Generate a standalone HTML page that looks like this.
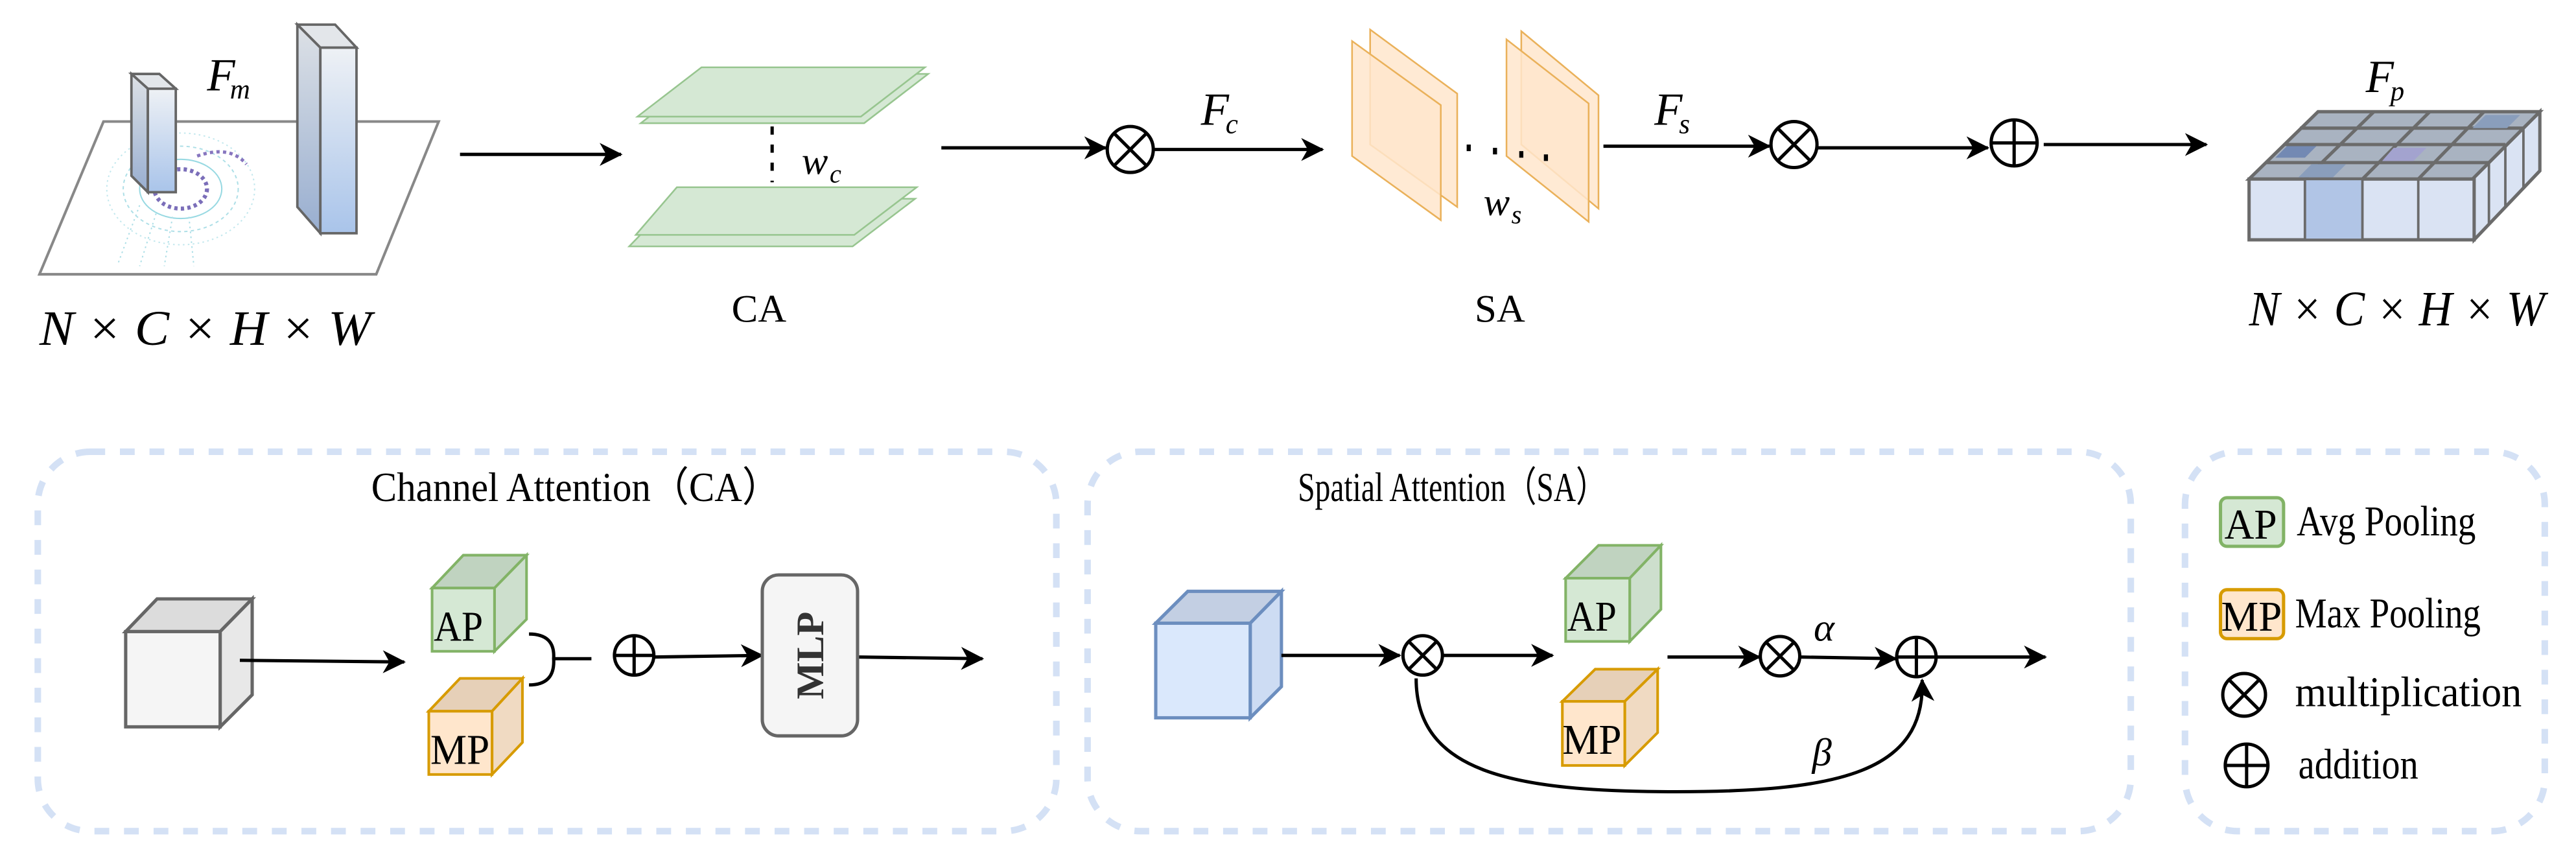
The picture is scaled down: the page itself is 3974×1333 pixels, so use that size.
<!DOCTYPE html>
<html><head><meta charset="utf-8"><style>
html,body{margin:0;padding:0;background:#fff;}
svg{display:block;}
text{font-family:"Liberation Serif","DejaVu Serif",serif;fill:#000;}
.m{font-style:italic;}
</style></head><body>
<svg width="3974" height="1333" viewBox="0 0 1568 526" preserveAspectRatio="none" xmlns="http://www.w3.org/2000/svg">
<defs>
<marker id="ah" markerUnits="userSpaceOnUse" markerWidth="14" markerHeight="14" viewBox="0 0 14 14" refX="13" refY="7" orient="auto">
<path d="M0,0 L14,7 L0,14 L4,7 Z" fill="#000"/>
</marker>
<linearGradient id="bar" x1="0" y1="0" x2="0" y2="1"><stop offset="0" stop-color="#eef1f5"/><stop offset="1" stop-color="#a9c4ea"/></linearGradient>
<linearGradient id="bars" x1="0" y1="0" x2="0" y2="1"><stop offset="0" stop-color="#dde1e6"/><stop offset="1" stop-color="#98aed0"/></linearGradient>
</defs>

<!-- plane -->
<polygon points="63,74 267,74 229,167 24,167" fill="#fff" stroke="#888" stroke-width="1.6"/>
<!-- point cloud -->
<g fill="none" stroke-width="0.8" opacity="0.8">
<ellipse cx="110" cy="115" rx="25" ry="18" stroke="#7fd0dc"/>
<ellipse cx="110" cy="115" rx="35" ry="26" stroke="#9ad8e2" stroke-dasharray="2 2"/>
<ellipse cx="110" cy="115" rx="45" ry="34" stroke="#b5e3ea" stroke-dasharray="1 2"/>
<ellipse cx="110" cy="115" rx="16" ry="12" stroke="#5b4aa8" stroke-width="2.5" stroke-dasharray="2 2"/>
<path d="M85,125 L72,160 M95,130 L85,162 M105,132 L100,162 M115,132 L118,162" stroke="#9ad8e2" stroke-dasharray="1 2"/>
<path d="M120,95 Q140,88 150,100" stroke="#6a55b0" stroke-width="2" stroke-dasharray="2 2"/>
</g>
<ellipse cx="110" cy="114" rx="9" ry="8" fill="#fff"/>
<!-- small bar -->
<polygon points="80,45 97,45 107,54 90,54" fill="#e3e6ea" stroke="#666" stroke-width="1.5"/>
<polygon points="80,45 90,54 90,117 80,107" fill="url(#bars)" stroke="#666" stroke-width="1.5"/>
<rect x="90" y="54" width="17" height="63" fill="url(#bar)" stroke="#666" stroke-width="1.5"/>
<!-- big bar -->
<polygon points="181,15 204,15 217,29 195,29" fill="#e3e6ea" stroke="#666" stroke-width="1.5"/>
<polygon points="181,15 195,29 195,142 181,126" fill="url(#bars)" stroke="#666" stroke-width="1.5"/>
<rect x="195" y="29" width="22" height="113" fill="url(#bar)" stroke="#666" stroke-width="1.5"/>
<text x="126" y="55" font-size="28" class="m">F</text><text x="140" y="60" font-size="17" class="m">m</text>
<text x="24" y="210" font-size="30" class="m" textLength="202" lengthAdjust="spacingAndGlyphs">N × C × H × W</text>

<!-- arrow 1 -->
<line x1="280" y1="94" x2="378" y2="94" stroke="#000" stroke-width="2" marker-end="url(#ah)"/>

<!-- green planes -->
<polygon points="429,45 565,45 526,75 390,75" fill="#d5e8d4" stroke="#97c58f" stroke-width="1"/>
<polygon points="427,41 563,41 524,71 388,71" fill="#d5e8d4" stroke="#97c58f" stroke-width="1"/>
<polygon points="411,121 557,121 519,150 383,150" fill="#d5e8d4" stroke="#97c58f" stroke-width="1"/>
<polygon points="412,114 558,114 520,143 387,143" fill="#d5e8d4" stroke="#97c58f" stroke-width="1"/>
<line x1="470" y1="77" x2="470" y2="111" stroke="#000" stroke-width="2" stroke-dasharray="5 6"/>
<text x="488" y="106" font-size="24" class="m">w</text><text x="505" y="111" font-size="16" class="m">c</text>
<text x="462" y="196" font-size="24" text-anchor="middle">CA</text>

<!-- to otimes 1 -->
<line x1="573" y1="90" x2="673" y2="90" stroke="#000" stroke-width="2" marker-end="url(#ah)"/>
<g stroke="#000" stroke-width="2" fill="#fff">
<circle cx="688" cy="91" r="14"/>
<line x1="678" y1="81" x2="698" y2="101"/><line x1="698" y1="81" x2="678" y2="101"/>
</g>
<line x1="702" y1="91" x2="805" y2="91" stroke="#000" stroke-width="2" marker-end="url(#ah)"/>
<text x="731" y="76" font-size="28" class="m">F</text><text x="746" y="81" font-size="17" class="m">c</text>

<!-- orange planes -->
<g fill="#ffe6cc" fill-opacity="0.85" stroke="#eab15a" stroke-width="1">
<polygon points="834,18 887,57 887,126 834,88"/>
<polygon points="823,25 877,64 877,134 823,95"/>
<polygon points="926,19 973,58 973,127 926,88"/>
<polygon points="917,24 967,63 967,135 917,95"/>
</g>
<g stroke="#000" stroke-width="2.5"><line x1="894" y1="88" x2="894" y2="92"/><line x1="910" y1="90" x2="910" y2="94"/><line x1="926" y1="92" x2="926" y2="96"/><line x1="941" y1="94" x2="941" y2="98"/></g>
<text x="903" y="131" font-size="24" class="m">w</text><text x="920" y="136" font-size="16" class="m">s</text>
<text x="913" y="196" font-size="24" text-anchor="middle">SA</text>

<line x1="976" y1="89" x2="1077" y2="89" stroke="#000" stroke-width="2" marker-end="url(#ah)"/>
<text x="1007" y="76" font-size="28" class="m">F</text><text x="1022" y="81" font-size="17" class="m">s</text>
<g stroke="#000" stroke-width="2" fill="#fff">
<circle cx="1092" cy="88" r="14"/>
<line x1="1082" y1="78" x2="1102" y2="98"/><line x1="1102" y1="78" x2="1082" y2="98"/>
</g>
<line x1="1106" y1="90" x2="1210" y2="90" stroke="#000" stroke-width="2" marker-end="url(#ah)"/>
<g stroke="#000" stroke-width="2" fill="#fff">
<circle cx="1226" cy="87" r="14"/>
<line x1="1212" y1="87" x2="1240" y2="87"/><line x1="1226" y1="73" x2="1226" y2="101"/>
</g>
<line x1="1244" y1="88" x2="1343" y2="88" stroke="#000" stroke-width="2" marker-end="url(#ah)"/>

<!-- Fp cube -->
<text x="1440" y="56" font-size="28" class="m">F</text><text x="1455" y="61" font-size="17" class="m">p</text>
<polygon points="1505,109 1546,68 1546,104 1506,146" fill="#dae3f3" stroke="#6b6b6b" stroke-width="2"/>
<g stroke="#6b6b6b" stroke-width="1.5"><line x1="1515" y1="99" x2="1515" y2="136"/><line x1="1525" y1="89" x2="1525" y2="126"/><line x1="1536" y1="78" x2="1536" y2="115"/></g>
<polygon points="1369,109 1411,68 1546,68 1505,109" fill="#a9b3c1" stroke="#6b6b6b" stroke-width="2"/>
<g stroke="#6b6b6b" stroke-width="2" fill="none">
<line x1="1379" y1="99" x2="1515" y2="99"/><line x1="1390" y1="88" x2="1525" y2="88"/><line x1="1400" y1="78" x2="1536" y2="78"/>
<line x1="1403" y1="109" x2="1445" y2="68"/><line x1="1438" y1="109" x2="1479" y2="68"/><line x1="1472" y1="109" x2="1512" y2="68"/>
</g>
<polygon points="1513,70 1534,70 1526,78 1505,78" fill="#8a9ebc"/>
<polygon points="1392,89 1410,89 1403,96 1385,96" fill="#7389b3"/>
<polygon points="1457,90 1477,90 1469,98 1450,98" fill="#a3a3cf"/>
<polygon points="1407,100 1428,100 1420,108 1399,108" fill="#8a9ebc"/>
<rect x="1369" y="109" width="137" height="37" fill="#dae3f3" stroke="#6b6b6b" stroke-width="2"/>
<rect x="1403" y="109" width="35" height="37" fill="#b1c5e6" stroke="#6b6b6b" stroke-width="1.5"/>
<line x1="1472" y1="109" x2="1472" y2="146" stroke="#6b6b6b" stroke-width="1.5"/>
<text x="1369" y="198" font-size="30" class="m" textLength="180" lengthAdjust="spacingAndGlyphs">N × C × H × W</text>

<!-- dashed boxes -->
<g fill="none" stroke="#d4e1f5" stroke-width="4" stroke-dasharray="9 9">
<rect x="23" y="275" width="620" height="231" rx="32"/>
<rect x="662" y="275" width="635" height="231" rx="32"/>
<rect x="1330" y="275" width="219" height="231" rx="32"/>
</g>

<!-- CA section -->
<text x="226" y="305" font-size="25" textLength="249" lengthAdjust="spacingAndGlyphs">Channel Attention（CA）</text>
<polygon points="76.5,384.5 95.6,364.6 153.5,364.6 134,384.5" fill="#dcdcdc" stroke="#666" stroke-width="2"/>
<polygon points="134,384.5 153.5,364.6 153.5,423 134,442.5" fill="#e8e8e8" stroke="#666" stroke-width="2"/>
<rect x="76.5" y="384.5" width="57.5" height="58" fill="#f5f5f5" stroke="#666" stroke-width="2"/>
<line x1="146" y1="402" x2="246" y2="403" stroke="#000" stroke-width="2" marker-end="url(#ah)"/>

<polygon points="263,358 282,338 320.5,338 301,358" fill="#c0d3c0" stroke="#82b366" stroke-width="1.6"/>
<polygon points="301,358 320.5,338 320.5,377 301,396.5" fill="#cddfcd" stroke="#82b366" stroke-width="1.6"/>
<rect x="263" y="358" width="38" height="38.5" fill="#d5e8d4" stroke="#82b366" stroke-width="1.6"/>
<text x="264" y="390" font-size="26" textLength="30" lengthAdjust="spacingAndGlyphs">AP</text>

<polygon points="261,433 280,413 318,413 299.5,433" fill="#e6d0b8" stroke="#d79b00" stroke-width="1.6"/>
<polygon points="299.5,433 318,413 318,452 299.5,471.5" fill="#f0dac2" stroke="#d79b00" stroke-width="1.6"/>
<rect x="261" y="433" width="38.5" height="38.5" fill="#ffe6cc" stroke="#d79b00" stroke-width="1.6"/>
<text x="262" y="465" font-size="26" textLength="36" lengthAdjust="spacingAndGlyphs">MP</text>

<path d="M322,386 Q338,386 337,401 Q338,417 322,417" fill="none" stroke="#000" stroke-width="2"/>
<line x1="337" y1="401" x2="360" y2="401" stroke="#000" stroke-width="2"/>
<g stroke="#000" stroke-width="2" fill="#fff">
<circle cx="386" cy="399" r="12"/>
<line x1="374" y1="399" x2="398" y2="399"/><line x1="386" y1="387" x2="386" y2="411"/>
</g>
<line x1="398" y1="400" x2="464" y2="399" stroke="#000" stroke-width="2" marker-end="url(#ah)"/>
<rect x="464" y="350" width="58" height="98" rx="10" fill="#f5f5f5" stroke="#666" stroke-width="2"/>
<text x="0" y="0" font-size="24" font-weight="bold" text-anchor="middle" transform="translate(501,399) rotate(-90)" style="fill:#333">MLP</text>
<line x1="523" y1="400" x2="598" y2="401" stroke="#000" stroke-width="2" marker-end="url(#ah)"/>

<!-- SA section -->
<text x="790" y="305" font-size="25" textLength="188" lengthAdjust="spacingAndGlyphs">Spatial Attention（SA）</text>
<polygon points="703.5,379.4 723,360 780,360 761,379.4" fill="#c3cfe3" stroke="#6c8ebf" stroke-width="2"/>
<polygon points="761,379.4 780,360 780,418 761,437" fill="#cddcf3" stroke="#6c8ebf" stroke-width="2"/>
<rect x="703.5" y="379.4" width="57.5" height="57.6" fill="#dae8fc" stroke="#6c8ebf" stroke-width="2"/>
<line x1="780" y1="399" x2="852" y2="399" stroke="#000" stroke-width="2" marker-end="url(#ah)"/>
<g stroke="#000" stroke-width="2" fill="#fff">
<circle cx="866" cy="399" r="12"/>
<line x1="857.5" y1="390.5" x2="874.5" y2="407.5"/><line x1="874.5" y1="390.5" x2="857.5" y2="407.5"/>
</g>
<line x1="878" y1="399" x2="945" y2="399" stroke="#000" stroke-width="2" marker-end="url(#ah)"/>

<polygon points="953,352 973,332 1011,332 992,352" fill="#c0d3c0" stroke="#82b366" stroke-width="1.6"/>
<polygon points="992,352 1011,332 1011,371 992,390.5" fill="#cddfcd" stroke="#82b366" stroke-width="1.6"/>
<rect x="953" y="352" width="39" height="38.5" fill="#d5e8d4" stroke="#82b366" stroke-width="1.6"/>
<text x="954" y="384" font-size="26" textLength="30" lengthAdjust="spacingAndGlyphs">AP</text>

<polygon points="951,427 971,407.4 1009,407.4 989,427" fill="#e6d0b8" stroke="#d79b00" stroke-width="1.6"/>
<polygon points="989,427 1009,407.4 1009,446 989,466" fill="#f0dac2" stroke="#d79b00" stroke-width="1.6"/>
<rect x="951" y="427" width="38" height="39" fill="#ffe6cc" stroke="#d79b00" stroke-width="1.6"/>
<text x="951" y="459" font-size="26" textLength="36" lengthAdjust="spacingAndGlyphs">MP</text>

<line x1="1015" y1="400" x2="1071" y2="400" stroke="#000" stroke-width="2" marker-end="url(#ah)"/>
<g stroke="#000" stroke-width="2" fill="#fff">
<circle cx="1083.5" cy="399.5" r="12"/>
<line x1="1075" y1="391" x2="1092" y2="408"/><line x1="1092" y1="391" x2="1075" y2="408"/>
</g>
<text x="1104" y="390" font-size="24" class="m">α</text>
<line x1="1096" y1="400" x2="1154" y2="401" stroke="#000" stroke-width="2" marker-end="url(#ah)"/>
<g stroke="#000" stroke-width="2" fill="#fff">
<circle cx="1166.5" cy="400" r="12"/>
<line x1="1154.5" y1="400" x2="1178.5" y2="400"/><line x1="1166.5" y1="388" x2="1166.5" y2="412"/>
</g>
<line x1="1178.5" y1="400" x2="1245" y2="400" stroke="#000" stroke-width="2" marker-end="url(#ah)"/>
<path d="M862,413 C862,470 920,482 1020,482 C1120,482 1172,470 1170,414" fill="none" stroke="#000" stroke-width="2" marker-end="url(#ah)"/>
<text x="1103" y="466" font-size="24" class="m">β</text>

<!-- legend -->
<rect x="1351.6" y="303" width="38.4" height="29.6" rx="4" fill="#d5e8d4" stroke="#82b366" stroke-width="2"/>
<text x="1354" y="328" font-size="26" textLength="32" lengthAdjust="spacingAndGlyphs">AP</text>
<text x="1398" y="326" font-size="26" textLength="109" lengthAdjust="spacingAndGlyphs">Avg Pooling</text>
<rect x="1351.6" y="359" width="38.4" height="29.8" rx="4" fill="#ffe6cc" stroke="#d79b00" stroke-width="2"/>
<text x="1352" y="384" font-size="26" textLength="37" lengthAdjust="spacingAndGlyphs">MP</text>
<text x="1397" y="382" font-size="26" textLength="113" lengthAdjust="spacingAndGlyphs">Max Pooling</text>
<g stroke="#000" stroke-width="2" fill="#fff">
<circle cx="1366" cy="423" r="13"/>
<line x1="1357" y1="414" x2="1375" y2="432"/><line x1="1375" y1="414" x2="1357" y2="432"/>
<circle cx="1367.5" cy="466" r="13"/>
<line x1="1354.5" y1="466" x2="1380.5" y2="466"/><line x1="1367.5" y1="453" x2="1367.5" y2="479"/>
</g>
<text x="1397" y="430" font-size="26" textLength="138" lengthAdjust="spacingAndGlyphs">multiplication</text>
<text x="1399" y="474" font-size="26" textLength="73" lengthAdjust="spacingAndGlyphs">addition</text>
</svg>
</body></html>
